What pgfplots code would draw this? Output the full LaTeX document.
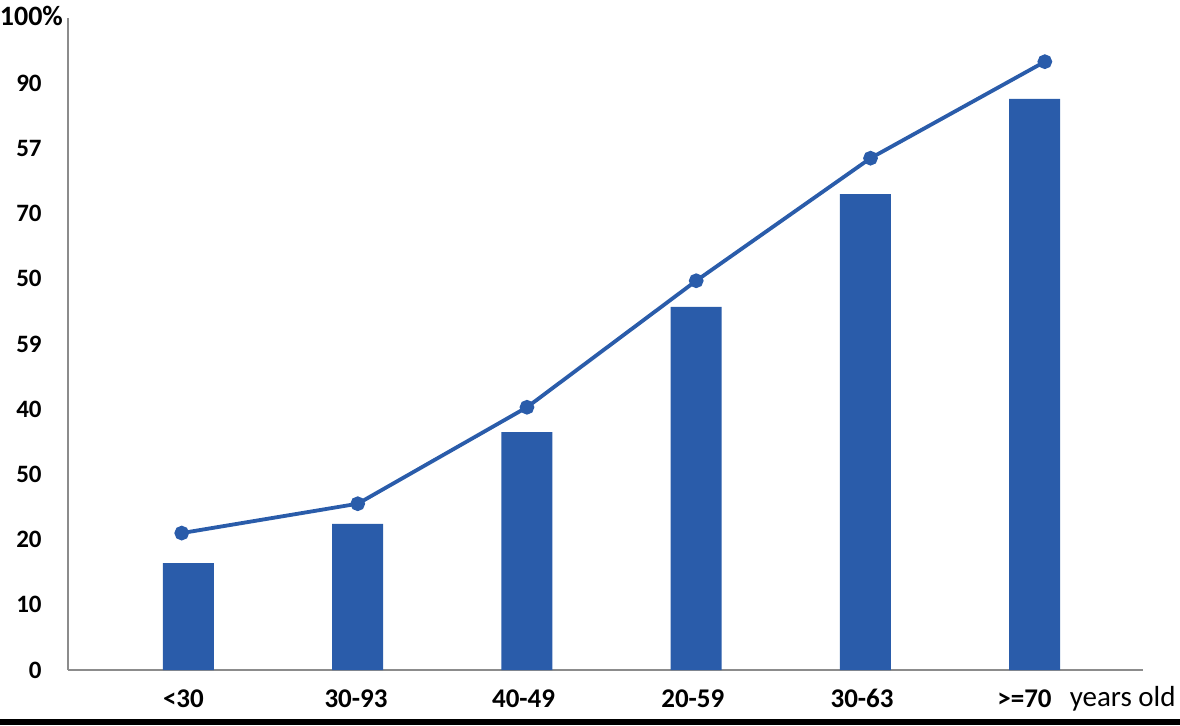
\documentclass[border=0pt]{standalone}
\usepackage{pgfplots}
\pgfplotsset{compat=1.18}
\usepackage{fontspec}
\setmainfont{Carlito}
\definecolor{barblue}{HTML}{2A5CAA}
\definecolor{axgray}{HTML}{8C8C8C}
\begin{document}
\begin{tikzpicture}
\path[use as bounding box] (0pt,0pt) rectangle (590pt,362.5pt);
\fill[black] (0pt,0pt) rectangle (590pt,3pt);
\begin{axis}[
  at={(34pt,27.5pt)}, anchor=south west,
  scale only axis, width=537.5pt, height=326pt,
  xmin=-0.712, xmax=5.64, ymin=0, ymax=100,
  axis lines*=left,
  axis line style={axgray, line width=0.8pt},
  major tick length=0pt,
  xtick={-0.03,0.99,1.98,2.98,3.98,4.94},
  xticklabels={<30,30-93,40-49,20-59,30-63,>=70},
  xticklabel style={font=\fontsize{13.5}{15}\selectfont\bfseries, anchor=north, inner sep=0pt, yshift=-9.5pt},
  ytick={0,10,20,30,40,50,60,70,80,90},
  yticklabels={0,10,20,50,40,59,50,70,57,90},
  yticklabel style={font=\fontsize{12.5}{14}\selectfont\bfseries, anchor=east, inner sep=0pt, xshift=-13pt},
  clip=false,
]
\addplot[ybar, bar width=25.5pt, fill=barblue, draw=none]
  coordinates {(0,16.4) (1,22.4) (2,36.5) (3,55.7) (4,73.0) (5,87.6)};
\addplot[barblue, line width=1.9pt, mark=*, mark size=2.7pt, mark options={fill=barblue}]
  coordinates {(-0.04,21.0) (1,25.5) (2,40.3) (3,59.7) (4.03,78.5) (5.06,93.3)};
\node[font=\fontsize{14.5}{16}\selectfont, anchor=base, inner sep=0pt, yshift=-18pt] at (axis cs:5.52,0) {years old};
\node[font=\fontsize{14}{16}\selectfont\bfseries, anchor=east, inner sep=0pt] at (axis cs:-0.74,100.3) {100\%};
\end{axis}
\end{tikzpicture}
\end{document}
